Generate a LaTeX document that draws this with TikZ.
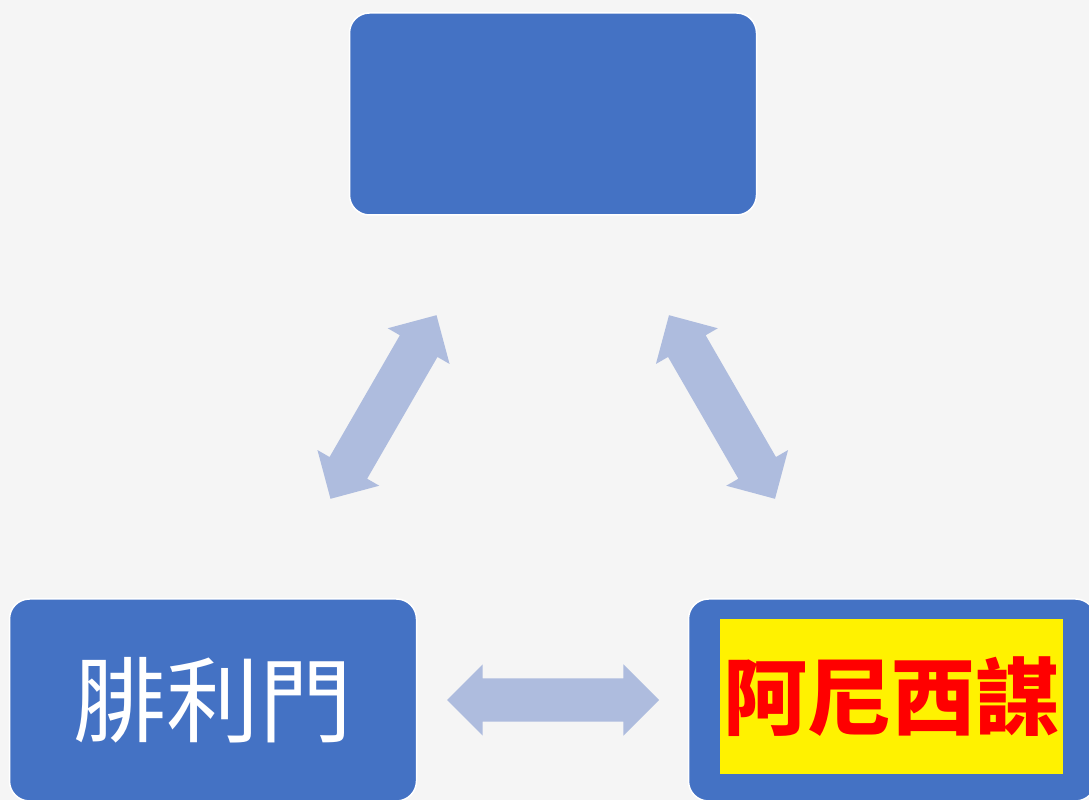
\documentclass[tikz,border=0pt]{standalone}
\usepackage{fontspec}
\usepackage{xcolor}
\usetikzlibrary{shapes.arrows}
\newfontfamily\cjk{Noto Sans CJK TC}

\definecolor{boxblue}{HTML}{4472C4}
\definecolor{arrowblue}{HTML}{AEBCDE}
\definecolor{paper}{HTML}{F5F5F5}

\begin{document}
\begin{tikzpicture}[x=1pt,y=1pt,
	box/.style={rectangle, rounded corners=20pt, fill=boxblue, draw=white,
		line width=1.5pt, minimum width=407pt, minimum height=202pt, inner sep=0pt},
	dblarrow/.style={double arrow, fill=arrowblue, draw=none, inner xsep=0pt,
		inner ysep=21.5pt, double arrow head extend=14pt, double arrow tip angle=90,
		minimum height=212pt},
	hilite/.style={rectangle, fill=yellow, minimum width=343pt, minimum height=155pt,
		inner sep=0pt, text=red, font=\cjk\bfseries\fontsize{84}{84}\selectfont}]
	
	\useasboundingbox (0,0) rectangle (1089,800);
	\clip (0,0) rectangle (1089,800);
	\fill[paper] (0,0) rectangle (1089,800);
	
	% boxes
	\node[box] (top) at (553,686) {};
	\node[box, text=white, font=\cjk\fontsize{93}{93}\selectfont] (phm) at (213,100) {腓利門};
	\node[box] (ones) at (892,100) {};
	\node[hilite] (onesname) at (891.5,103.5) {阿尼西謀};
	
	% arrows
	\node[dblarrow, rotate=60] (left) at (383.5,393) {};
	\node[dblarrow, rotate=-60] (right) at (722,393) {};
	\node[dblarrow] (bottom) at (553,100) {};
	
\end{tikzpicture}
\end{document}
